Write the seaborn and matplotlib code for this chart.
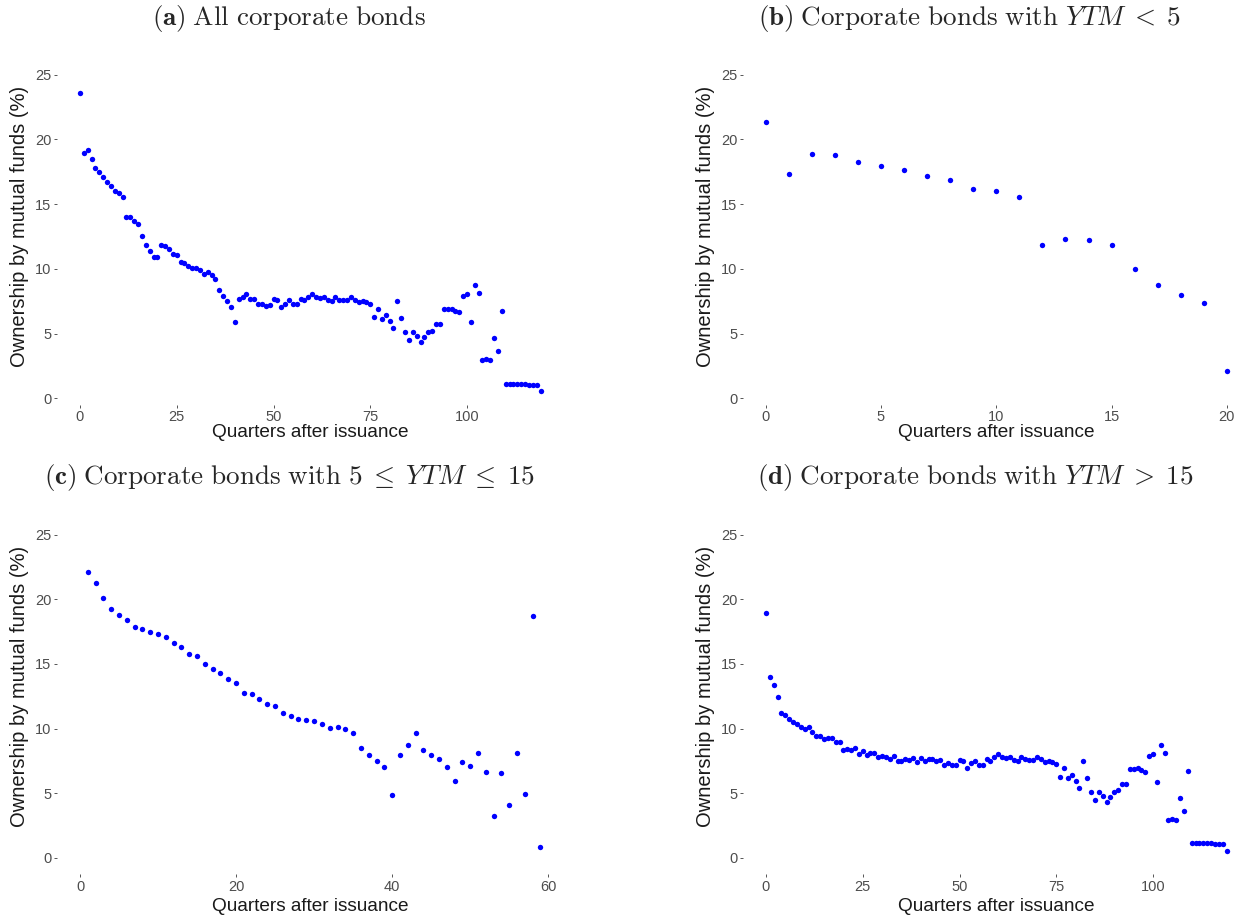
import numpy as np
import pandas as pd
import matplotlib
matplotlib.use("Agg")
import matplotlib.pyplot as plt
import seaborn as sns

# Mutual-fund ownership (%) by quarters after issuance
all_quarters = list(range(0, 120))
all_share = [
    23.61, 18.95, 19.16, 18.51, 17.77, 17.46, 17.12, 16.68, 16.43, 15.99,
    15.89, 15.58, 13.98, 13.98, 13.70, 13.44, 12.51, 11.82, 11.35, 10.94,
    10.94, 11.84, 11.79, 11.51, 11.12, 11.07, 10.56, 10.43, 10.22, 10.09,
    10.04, 9.89, 9.58, 9.73, 9.53, 9.24, 8.34, 7.90, 7.52, 7.05,
    5.92, 7.65, 7.85, 8.03, 7.64, 7.64, 7.26, 7.26, 7.13, 7.21,
    7.64, 7.56, 7.03, 7.29, 7.56, 7.26, 7.26, 7.67, 7.56, 7.80,
    8.06, 7.85, 7.72, 7.83, 7.57, 7.51, 7.80, 7.62, 7.59, 7.62,
    7.80, 7.62, 7.41, 7.49, 7.41, 7.26, 6.28, 6.92, 6.15, 6.44,
    5.95, 5.43, 7.49, 6.20, 5.10, 4.50, 5.15, 4.84, 4.35, 4.76,
    5.10, 5.23, 5.77, 5.71, 6.90, 6.90, 6.92, 6.77, 6.67, 7.90,
    8.03, 5.89, 8.73, 8.14, 2.98, 3.03, 2.98, 4.66, 3.65, 6.72,
    1.13, 1.14, 1.14, 1.14, 1.13, 1.12, 1.05, 1.05, 1.04, 0.59,
]

short_quarters = list(range(0, 21))
short_share = [
    21.37, 17.33, 18.85, 18.82, 18.26, 17.95, 17.64, 17.17, 16.86, 16.14,
    16.04, 15.55, 11.87, 12.28, 12.20, 11.85, 9.99, 8.73, 7.98, 7.34,
    2.08,
]

mid_quarters = list(range(1, 60))
mid_share = [
    22.14, 21.29, 20.08, 19.27, 18.76, 18.42, 17.88, 17.70, 17.44, 17.31,
    17.08, 16.59, 16.28, 15.79, 15.61, 14.99, 14.58, 14.27, 13.86, 13.50,
    12.72, 12.67, 12.31, 11.90, 11.74, 11.20, 10.97, 10.76, 10.68, 10.55,
    10.37, 10.01, 10.09, 9.96, 9.63, 8.49, 7.97, 7.48, 6.99, 4.83,
    7.97, 8.75, 9.63, 8.34, 7.97, 7.64, 6.99, 5.94, 7.41, 7.12,
    8.08, 6.66, 3.25, 6.53, 4.05, 8.13, 4.96, 18.68, 0.85,
]

long_quarters = list(range(0, 120))
long_share = [
    18.97, 13.99, 13.39, 12.46, 11.23, 11.02, 10.71, 10.53, 10.37, 10.14,
    9.94, 10.09, 9.73, 9.39, 9.42, 9.21, 9.29, 9.29, 8.93, 8.93,
    8.36, 8.39, 8.31, 8.47, 8.05, 8.26, 7.95, 8.08, 8.11, 7.77,
    7.90, 7.82, 7.61, 7.90, 7.48, 7.48, 7.61, 7.59, 7.74, 7.40,
    7.69, 7.51, 7.64, 7.61, 7.46, 7.56, 7.17, 7.33, 7.17, 7.17,
    7.59, 7.46, 6.97, 7.30, 7.46, 7.20, 7.20, 7.61, 7.51, 7.79,
    8.05, 7.82, 7.69, 7.80, 7.54, 7.51, 7.80, 7.61, 7.56, 7.59,
    7.80, 7.61, 7.40, 7.48, 7.40, 7.23, 6.27, 6.92, 6.14, 6.43,
    5.91, 5.42, 7.48, 6.20, 5.06, 4.49, 5.12, 4.81, 4.34, 4.73,
    5.06, 5.21, 5.73, 5.68, 6.89, 6.89, 6.92, 6.76, 6.66, 7.90,
    8.03, 5.89, 8.75, 8.13, 2.95, 3.00, 2.96, 4.65, 3.62, 6.71,
    1.14, 1.15, 1.15, 1.15, 1.14, 1.12, 1.08, 1.06, 1.05, 0.55,
]

y_ticks = [0, 5, 10, 15, 20, 25]
x_label = "Quarters after issuance"
y_label = "Ownership by mutual funds (%)"

titles = [
    r"$\mathbf{(a)}\;\mathrm{All\ corporate\ bonds}$",
    r"$\mathbf{(b)}\;\mathrm{Corporate\ bonds\ with}\ YTM\;<\;5$",
    r"$\mathbf{(c)}\;\mathrm{Corporate\ bonds\ with}\ 5\;\leq\;YTM\;\leq\;15$",
    r"$\mathbf{(d)}\;\mathrm{Corporate\ bonds\ with}\ YTM\;>\;15$",
]

sns.set_theme(style="white")
plt.rcParams["font.family"] = ["Liberation Sans", "DejaVu Sans"]
plt.rcParams["mathtext.fontset"] = "cm"

W, H = 1244, 917
fig = plt.figure(figsize=(W / 100, H / 100), dpi=100)


def add_panel(px_left, px_right, px_top, px_bottom):
    return fig.add_axes([px_left / W, 1 - px_bottom / H,
                         (px_right - px_left) / W, (px_bottom - px_top) / H])


panels = [
    # (quarters, share, x-range, x-ticks, y-floor, pixel box, y-label centre px, x-label pad)
    (all_quarters, all_share, (-5.94, 124.8), [0, 25, 50, 75, 100], -0.48,
     (57, 563, 58.5, 404.5), 226, 0),
    (short_quarters, short_share, (-0.98, 21.0), [0, 5, 10, 15, 20], -0.48,
     (743, 1250, 58.5, 404.5), 226, 0),
    (mid_quarters, mid_share, (-2.95, 61.9), [0, 20, 40, 60], -1.25,
     (57, 563, 518.5, 874.0), 686, 3),
    (long_quarters, long_share, (-5.94, 124.8), [0, 25, 50, 75, 100], -1.25,
     (743, 1249, 518.5, 874.0), 686, 3),
]

YLAB_OFFSET_PX = 28  # distance from panel edge to the y title's baseline side

for (q, s, xlim, xticks, yfloor, box, ylab_px, xpad) in panels:
    ax = add_panel(*box)
    df = pd.DataFrame({"quarter": q, "share": s})
    sns.scatterplot(data=df, x="quarter", y="share", ax=ax, color="#0000FF",
                    s=15, linewidth=0, legend=False)
    ax.set_xlim(*xlim)
    ax.set_ylim(yfloor, 26.25)
    ax.set_xticks(xticks)
    ax.set_yticks(y_ticks)
    ax.set_xlabel(x_label, fontsize=13.7, color="#1A1A1A", labelpad=xpad)
    ax.set_ylabel(y_label, fontsize=14.5, color="#1A1A1A")
    top, bottom = box[2], box[3]
    ax.yaxis.set_label_coords(-YLAB_OFFSET_PX / (box[1] - box[0]),
                              (bottom - ylab_px) / (bottom - top))
    ax.tick_params(axis="both", length=2.5, width=0.7, color="#555555",
                   labelcolor="#4D4D4D", labelsize=10.5, pad=1.5,
                   bottom=True, left=True)
    ax.grid(False)
    sns.despine(ax=ax, left=True, bottom=True)

# Sub-figure captions
cap = dict(ha="center", va="center", fontsize=19.5)
fig.text(289 / W, 1 - 18 / H, titles[0], **cap)
fig.text(970 / W, 1 - 18 / H, titles[1], **cap)
fig.text(289 / W, 1 - 478 / H, titles[2], **cap)
fig.text(975 / W, 1 - 478 / H, titles[3], **cap)

fig.savefig("out.png", dpi=100, facecolor="white")
